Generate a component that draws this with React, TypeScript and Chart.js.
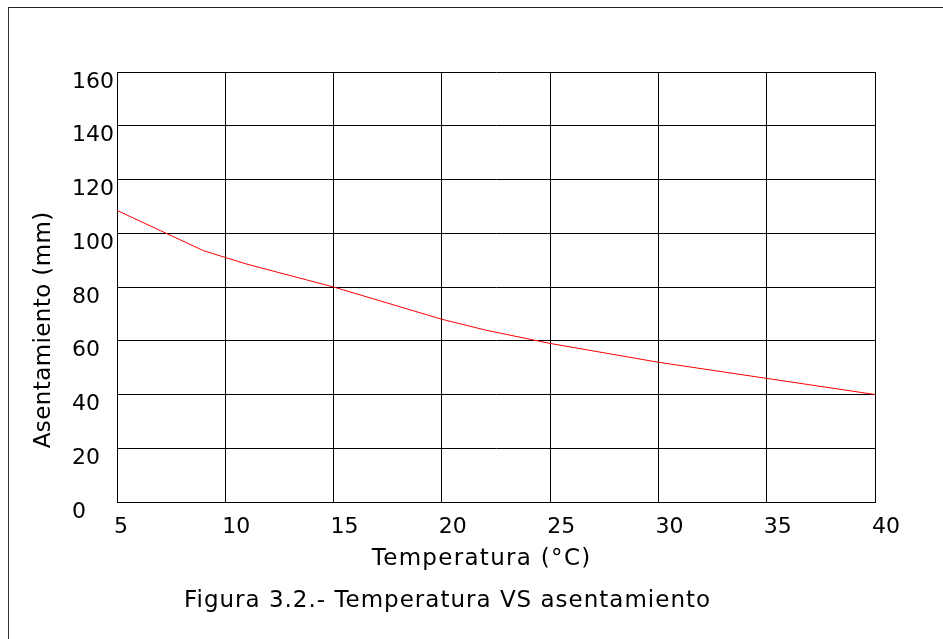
import React, { useEffect, useRef } from "react";
import { Chart, registerables } from "chart.js";

Chart.register(...registerables);

const TEMPERATURES = [5, 7, 9, 11, 15, 20, 22, 25, 30, 35, 40];
const SETTLEMENT = [108.5, 101, 93.5, 88.5, 80, 68, 64, 59, 52, 46, 40];
const X_TICKS = [5, 10, 15, 20, 25, 30, 35, 40];
const Y_TICKS = [0, 20, 40, 60, 80, 100, 120, 140, 160];
const X_TITLE = "Temperatura (°C)";
const Y_TITLE = "Asentamiento (mm)";
const CAPTION = "Figura 3.2.- Temperatura VS asentamiento";

const FONT = '"DejaVu Sans", Verdana, sans-serif';

function drawSpaced(ctx: any, text: string, x: number, y: number, spacing: number) {
  if ("letterSpacing" in ctx) {
    ctx.letterSpacing = `${spacing}px`;
    ctx.fillText(text, x + spacing / 2, y);
    ctx.letterSpacing = "0px";
  } else {
    ctx.fillText(text, x, y);
  }
}

const textLayer = {
  id: "textLayer",
  afterDraw(chart: any) {
    const { ctx, chartArea } = chart;
    const { left, right, top, bottom } = chartArea;
    const cx = (left + right) / 2;
    ctx.save();
    ctx.fillStyle = "#000";
    ctx.textAlign = "center";
    ctx.textBaseline = "middle";
    ctx.font = `23px ${FONT}`;
    drawSpaced(ctx, X_TITLE, cx - 15, bottom + 57.5, 1.3);
    ctx.font = `23px ${FONT}`;
    drawSpaced(ctx, CAPTION, cx - 49, bottom + 99, 1.0);
    ctx.font = `23px ${FONT}`;
    ctx.translate(left - 73, (top + bottom) / 2 + 43);
    ctx.rotate(-Math.PI / 2);
    drawSpaced(ctx, Y_TITLE, 0, 0, 0.4);
    ctx.restore();
  },
};

export default function App() {
  const ref = useRef<HTMLCanvasElement | null>(null);

  useEffect(() => {
    if (!ref.current) return;
    const chart = new Chart(ref.current, {
      type: "line",
      data: {
        datasets: [
          {
            data: TEMPERATURES.map((t, i) => ({ x: t, y: SETTLEMENT[i] })),
            borderColor: "#ff0000",
            borderWidth: 1,
            pointRadius: 0,
            tension: 0,
            fill: false,
          },
        ],
      },
      options: {
        responsive: false,
        animation: false,
        layout: { padding: { left: 72, right: 68, top: 72, bottom: 67 } },
        plugins: {
          legend: { display: false },
          tooltip: { enabled: false },
          title: { display: false },
        },
        scales: {
          x: {
            type: "linear",
            min: X_TICKS[0],
            max: X_TICKS[X_TICKS.length - 1],
            afterBuildTicks: (scale: any) => {
              scale.ticks = X_TICKS.map((v) => ({ value: v }));
            },
            afterFit: (scale: any) => {
              scale.height = 70;
            },
            grid: { color: "#000", lineWidth: 1, drawTicks: false },
            border: { color: "#000", width: 1 },
            ticks: {
              align: "start",
              labelOffset: -3,
              padding: 12,
              color: "#000",
              font: { family: FONT, size: 22 },
              maxRotation: 0,
              autoSkip: false,
            },
          },
          y: {
            type: "linear",
            min: Y_TICKS[0],
            max: Y_TICKS[Y_TICKS.length - 1],
            afterBuildTicks: (scale: any) => {
              scale.ticks = Y_TICKS.map((v) => ({ value: v }));
            },
            afterFit: (scale: any) => {
              scale.width = 45;
            },
            grid: { color: "#000", lineWidth: 1, drawTicks: false },
            border: { color: "#000", width: 1 },
            ticks: {
              crossAlign: "far",
              labelOffset: 10,
              padding: 4,
              color: "#000",
              font: { family: FONT, size: 22 },
              autoSkip: false,
            },
          },
        },
      },
      plugins: [textLayer],
    } as any);
    return () => chart.destroy();
  }, []);

  return (
    <div
      style={{
        position: "fixed",
        left: 0,
        top: 0,
        width: 943,
        height: 639,
        overflow: "hidden",
        background: "#fff",
      }}
    >
      <div
        style={{
          position: "absolute",
          left: 8,
          top: 7,
          width: 1200,
          height: 1200,
          borderTop: "1px solid #222",
          borderLeft: "1px solid #333",
        }}
      />
      <canvas
        ref={ref}
        width={943}
        height={639}
        style={{ position: "absolute", left: 0, top: 0, width: 943, height: 639 }}
      />
    </div>
  );
}
